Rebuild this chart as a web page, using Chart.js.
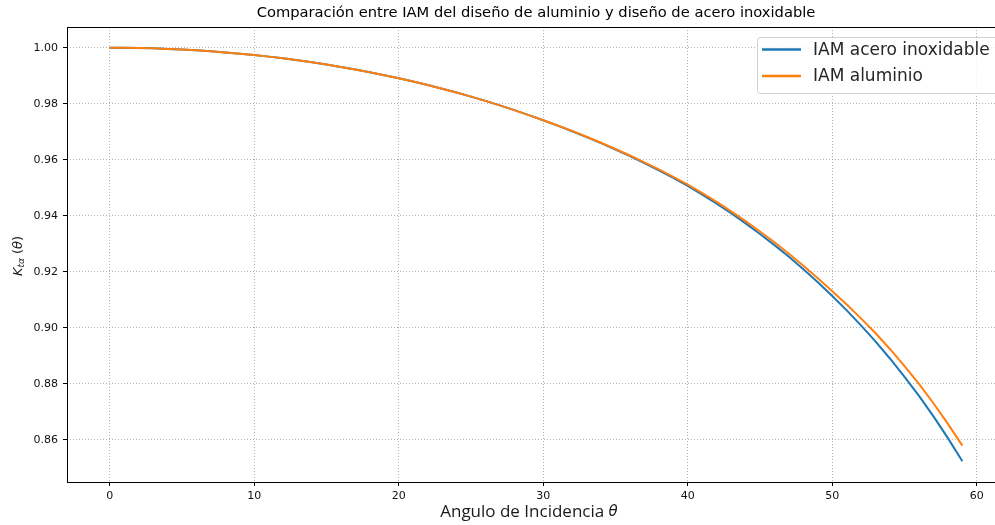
<!DOCTYPE html>
<html>
<head>
<meta charset="utf-8">
<script src="https://cdn.jsdelivr.net/npm/chart.js@4.4.1/dist/chart.umd.min.js"></script>
<style>
  html, body { margin: 0; padding: 0; background: #fff; overflow: hidden; }
  #wrap { position: relative; width: 1020px; height: 525px; }
</style>
</head>
<body>
<div id="wrap"><canvas id="chart" width="1020" height="525"></canvas></div>
<script>
// Incidence angle (degrees)
const angles = [
  0, 1, 2, 3, 4, 5, 6, 7, 8, 9,
  10, 11, 12, 13, 14, 15, 16, 17, 18, 19,
  20, 21, 22, 23, 24, 25, 26, 27, 28, 29,
  30, 31, 32, 33, 34, 35, 36, 37, 38, 39,
  40, 41, 42, 43, 44, 45, 46, 47, 48, 49,
  50, 51, 52, 53, 54, 55, 56, 57, 58, 59
];

// Incidence angle modifier, stainless steel design
const kAcero = [
  1.00000, 0.99997, 0.99990, 0.99977, 0.99958, 0.99935, 0.99906, 0.99872, 0.99833, 0.99788,
  0.99738, 0.99682, 0.99620, 0.99553, 0.99480, 0.99400, 0.99315, 0.99223, 0.99125, 0.99020,
  0.98909, 0.98792, 0.98668, 0.98538, 0.98400, 0.98255, 0.98103, 0.97941, 0.97773, 0.97594,
  0.97409, 0.97219, 0.97020, 0.96811, 0.96593, 0.96366, 0.96128, 0.95880, 0.95623, 0.95352,
  0.95068, 0.94757, 0.94432, 0.94090, 0.93730, 0.93352, 0.92954, 0.92535, 0.92093, 0.91628,
  0.91136, 0.90623, 0.90080, 0.89506, 0.88898, 0.88254, 0.87569, 0.86840, 0.86064, 0.85236
];

// Incidence angle modifier, aluminium design
const kAluminio = [
  1.00000, 0.99997, 0.99990, 0.99977, 0.99958, 0.99935, 0.99906, 0.99872, 0.99833, 0.99788,
  0.99738, 0.99682, 0.99620, 0.99553, 0.99480, 0.99400, 0.99315, 0.99223, 0.99125, 0.99020,
  0.98909, 0.98792, 0.98668, 0.98538, 0.98400, 0.98255, 0.98103, 0.97941, 0.97773, 0.97594,
  0.97409, 0.97224, 0.97030, 0.96823, 0.96608, 0.96386, 0.96153, 0.95910, 0.95658, 0.95392,
  0.95116, 0.94812, 0.94495, 0.94160, 0.93810, 0.93442, 0.93054, 0.92647, 0.92218, 0.91768,
  0.91306, 0.90833, 0.90330, 0.89806, 0.89238, 0.88634, 0.87999, 0.87310, 0.86574, 0.85796
];

const xTicks = [0, 10, 20, 30, 40, 50, 60];
const yTicks = [0.86, 0.88, 0.90, 0.92, 0.94, 0.96, 0.98, 1.00];
const seriesNames = ['IAM acero inoxidable', 'IAM aluminio'];
const seriesColors = ['#1f77b4', '#ff7f0e'];
const titleText = 'Comparación entre IAM del diseño de aluminio y diseño de acero inoxidable';
const xLabelText = 'Angulo de Incidencia ';

// Axis limits with a 5% margin around the data
const xMinD = Math.min(...angles), xMaxD = Math.max(...angles);
const yMinD = Math.min(...kAcero, ...kAluminio), yMaxD = Math.max(...kAcero, ...kAluminio);
const xPad = (xMaxD - xMinD) * 0.05, yPad = (yMaxD - yMinD) * 0.05;

const FONT = "'DejaVu Sans', sans-serif";
const LABEL_FONT = "'Open Sans', 'DejaVu Sans', sans-serif";

function toPoints(values) {
  return angles.map((a, i) => ({ x: a, y: values[i] }));
}

// Draws a run of text pieces with mixed styles, centred on (0,0)
function drawPieces(ctx, pieces) {
  let total = 0;
  pieces.forEach(p => { ctx.font = p.font; p.w = ctx.measureText(p.t).width; total += p.w; });
  let x = -total / 2;
  pieces.forEach(p => {
    ctx.font = p.font;
    ctx.fillText(p.t, x, p.dy || 0);
    x += p.w;
  });
}

const decor = {
  id: 'decor',
  afterDatasetsDraw(chart) {
    const { ctx, chartArea: a } = chart;
    ctx.save();
    // axes frame
    ctx.strokeStyle = '#000';
    ctx.lineWidth = 1;
    ctx.strokeRect(Math.round(a.left) + 0.5, Math.round(a.top) + 0.5,
                   Math.round(a.right - a.left), Math.round(a.bottom - a.top));

    // legend box, upper right
    const bx = 757.5, by = 37.5, bw = 241, bh = 56, r = 3;
    ctx.beginPath();
    ctx.moveTo(bx + r, by);
    ctx.lineTo(bx + bw - r, by);
    ctx.arcTo(bx + bw, by, bx + bw, by + r, r);
    ctx.lineTo(bx + bw, by + bh - r);
    ctx.arcTo(bx + bw, by + bh, bx + bw - r, by + bh, r);
    ctx.lineTo(bx + r, by + bh);
    ctx.arcTo(bx, by + bh, bx, by + bh - r, r);
    ctx.lineTo(bx, by + r);
    ctx.arcTo(bx, by, bx + r, by, r);
    ctx.closePath();
    ctx.fillStyle = 'rgba(255,255,255,0.8)';
    ctx.fill();
    ctx.strokeStyle = '#d0d0d0';
    ctx.lineWidth = 1;
    ctx.stroke();

    const rows = [49.5, 76];
    chart.data.datasets.forEach((ds, i) => {
      const y = rows[i];
      ctx.strokeStyle = ds.borderColor;
      ctx.lineWidth = 2.5;
      ctx.beginPath();
      ctx.moveTo(762, y);
      ctx.lineTo(801, y);
      ctx.stroke();
      ctx.fillStyle = '#262626';
      ctx.font = '17px ' + FONT;
      ctx.textAlign = 'left';
      ctx.textBaseline = 'middle';
      ctx.fillText(ds.label, 813, y + 1);
    });
    ctx.restore();
  },
  afterDraw(chart) {
    const { ctx } = chart;
    ctx.save();
    ctx.fillStyle = '#1a1a1a';
    ctx.textBaseline = 'middle';
    ctx.textAlign = 'left';

    // x axis label
    ctx.save();
    ctx.translate(529, 512);
    drawPieces(ctx, [
      { t: xLabelText, font: '17px ' + LABEL_FONT },
      { t: 'θ', font: 'italic 15px ' + FONT }
    ]);
    ctx.restore();

    // y axis label, rotated
    ctx.save();
    ctx.translate(19, 256);
    ctx.rotate(-Math.PI / 2);
    drawPieces(ctx, [
      { t: 'K', font: 'italic 13px ' + FONT },
      { t: 'tα', font: 'italic 9px ' + FONT, dy: 3 },
      { t: ' (', font: '13px ' + FONT },
      { t: 'θ', font: 'italic 13px ' + FONT },
      { t: ')', font: '13px ' + FONT }
    ]);
    ctx.restore();
    ctx.restore();
  }
};

const gridStyle = {
  color: 'rgba(165,165,165,0.85)',
  lineWidth: 1,
  drawTicks: true,
  tickLength: 4,
  tickColor: '#000',
  tickWidth: 1
};

new Chart(document.getElementById('chart'), {
  type: 'line',
  data: {
    datasets: [
      {
        label: seriesNames[0],
        data: toPoints(kAcero),
        borderColor: seriesColors[0],
        backgroundColor: seriesColors[0],
        borderWidth: 2,
        pointRadius: 0,
        tension: 0,
        fill: false,
        order: 2
      },
      {
        label: seriesNames[1],
        data: toPoints(kAluminio),
        borderColor: seriesColors[1],
        backgroundColor: seriesColors[1],
        borderWidth: 2,
        pointRadius: 0,
        tension: 0,
        fill: false,
        order: 1
      }
    ]
  },
  options: {
    responsive: false,
    animation: false,
    devicePixelRatio: 1,
    layout: { padding: { left: 0, right: 15, top: 0, bottom: 0 } },
    plugins: {
      legend: { display: false },
      tooltip: { enabled: false },
      title: {
        display: true,
        text: titleText,
        fullSize: false,
        align: 'center',
        color: '#000',
        font: { family: FONT, size: 14.7, weight: 'normal', lineHeight: 1.2 },
        padding: { top: 4.4, bottom: 5 }
      }
    },
    scales: {
      x: {
        type: 'linear',
        min: xMinD - xPad,
        max: xMaxD + xPad,
        afterBuildTicks: axis => { axis.ticks = xTicks.map(v => ({ value: v })); },
        afterFit: axis => { axis.height = 43; },
        grid: gridStyle,
        border: { display: false, dash: [1, 2] },
        ticks: {
          color: '#111',
          font: { family: FONT, size: 11 },
          padding: 4,
          maxRotation: 0,
          autoSkip: false,
          callback: v => String(v)
        }
      },
      y: {
        type: 'linear',
        min: yMinD - yPad,
        max: yMaxD + yPad,
        afterBuildTicks: axis => { axis.ticks = yTicks.map(v => ({ value: v })); },
        afterFit: axis => { axis.width = 67; },
        grid: gridStyle,
        border: { display: false, dash: [1, 2] },
        ticks: {
          color: '#111',
          font: { family: FONT, size: 11 },
          padding: 5,
          autoSkip: false,
          callback: v => v.toFixed(2)
        }
      }
    }
  },
  plugins: [decor]
});
</script>
</body>
</html>
